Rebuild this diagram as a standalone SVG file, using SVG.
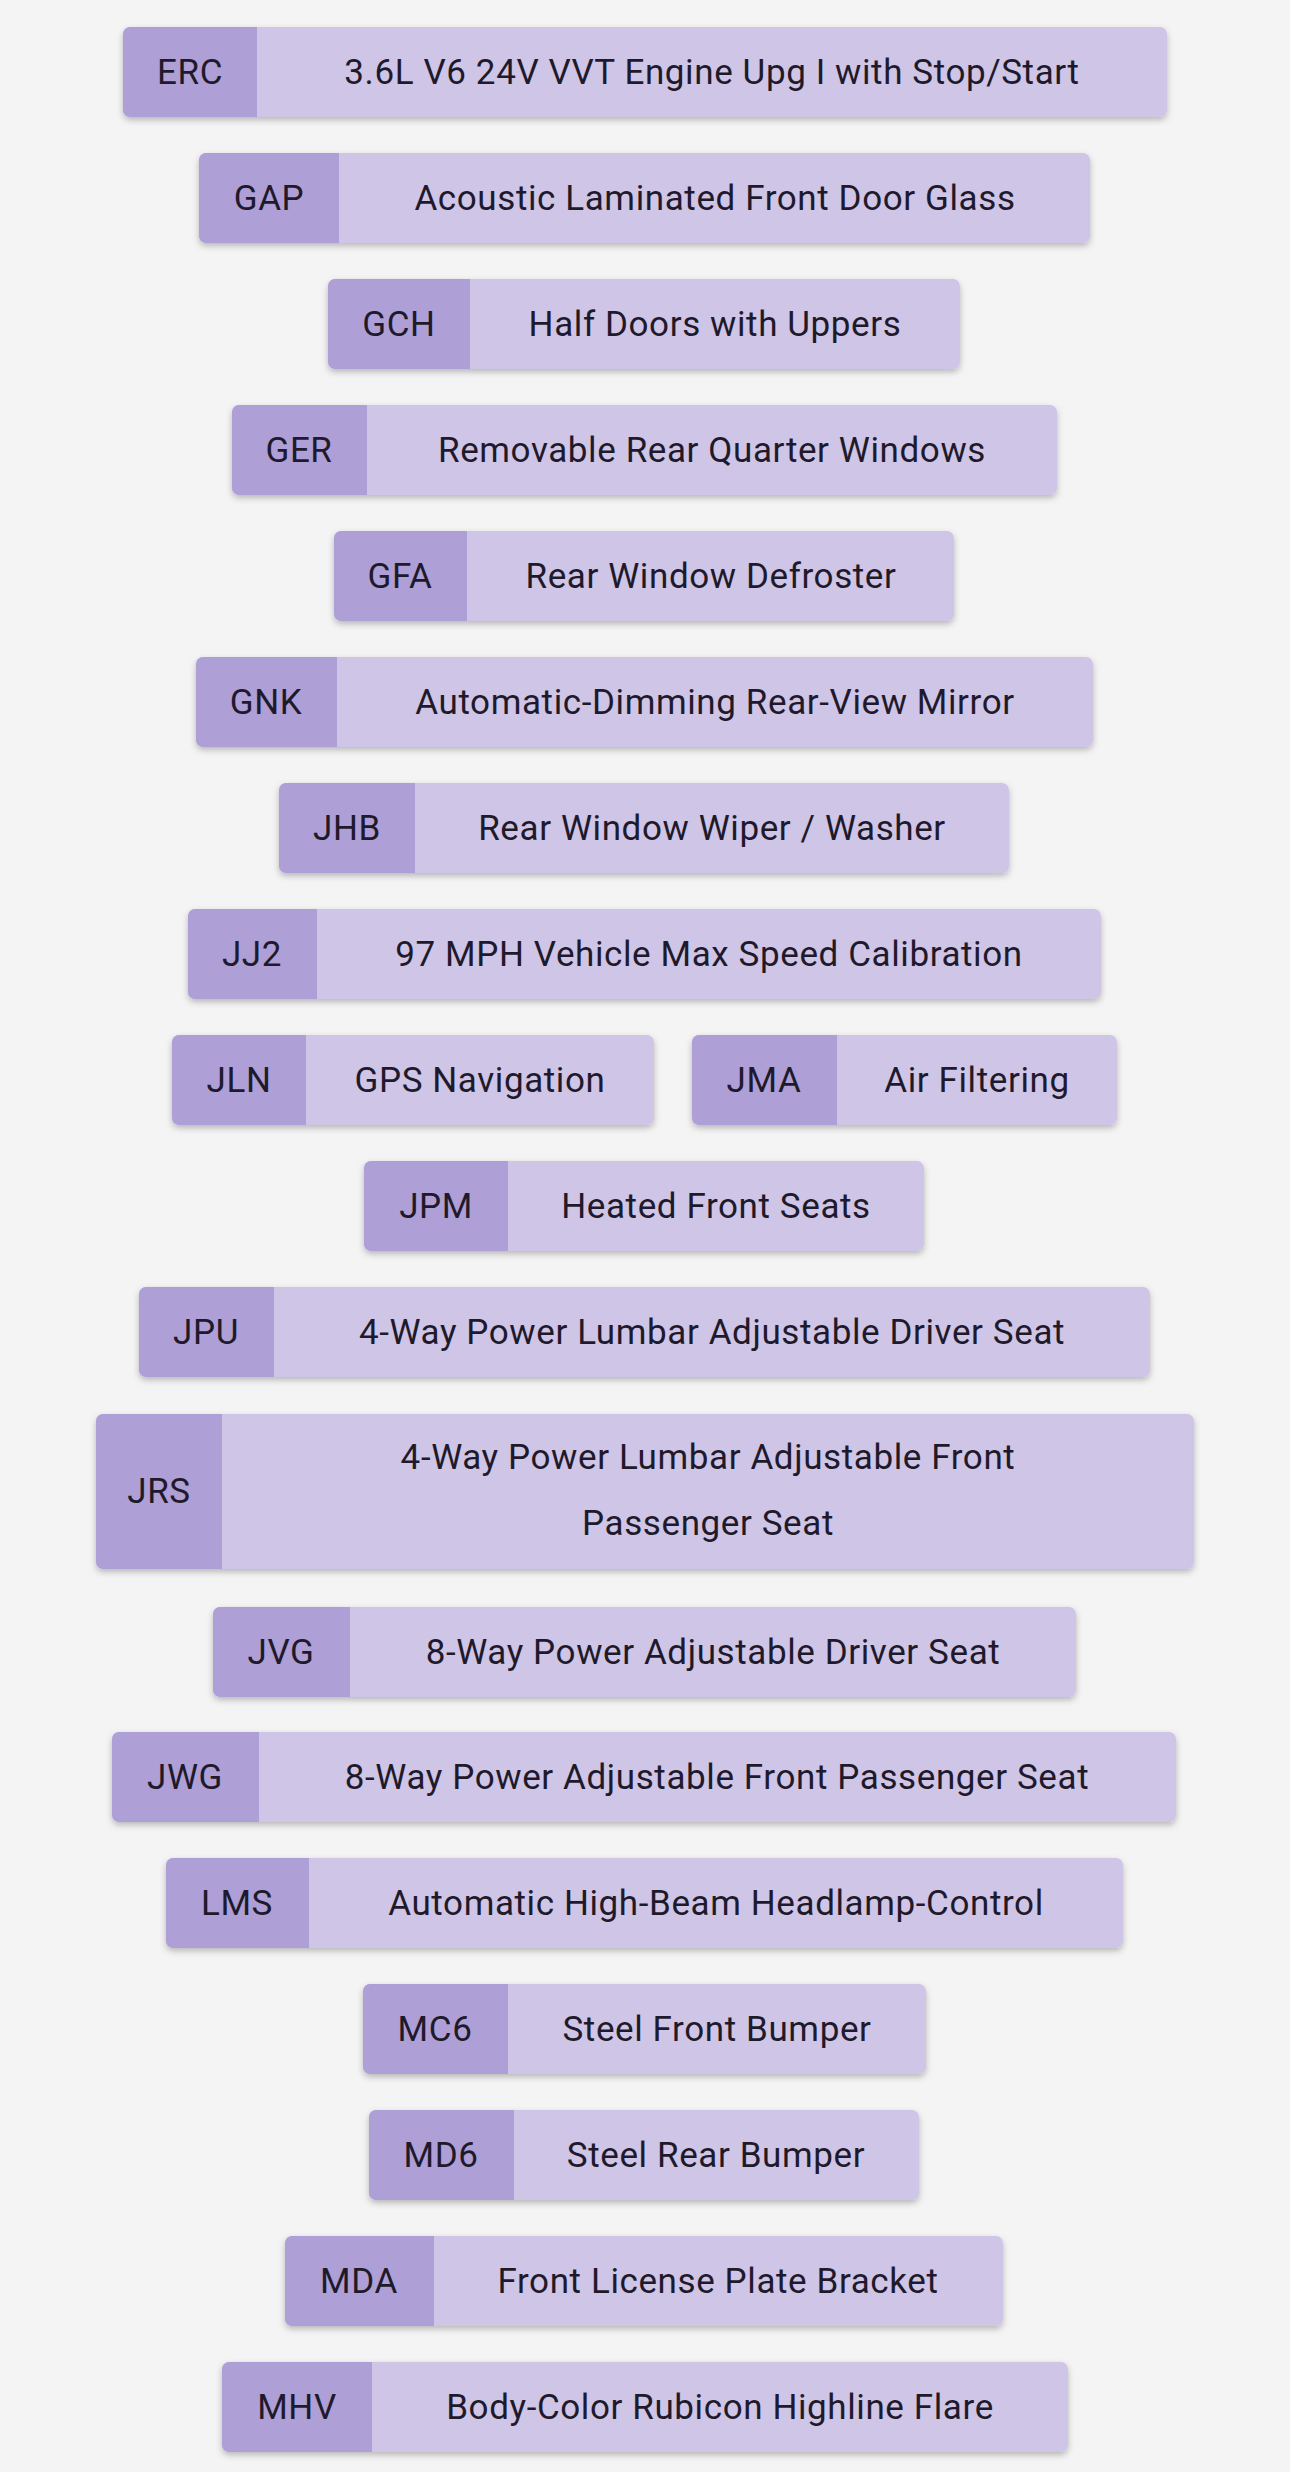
<svg xmlns="http://www.w3.org/2000/svg" width="1290" height="2472" viewBox="0 0 1290 2472">
<defs>
<filter id="sh" x="-5%" y="-20%" width="110%" height="150%"><feDropShadow dx="0" dy="3" stdDeviation="3" flood-color="#000" flood-opacity="0.25"/></filter>
<style>
.lb{fill:#cfc5e7}
.cd{fill:#ae9fd7}
text{font-family:Roboto,"Liberation Sans",sans-serif;font-size:35px;fill:#1f1a2b;text-anchor:middle;dominant-baseline:central;letter-spacing:0.6px}
</style>
</defs>
<rect width="1290" height="2472" fill="#f4f4f4"/>
<g id="top"><rect x="360" y="-90" width="567" height="88" rx="7" class="lb" filter="url(#sh)"/></g>
<g id="nodes">
<g id="ERC"><rect x="123" y="27" width="1044" height="90" rx="7" class="lb" filter="url(#sh)"/><path d="M130 27H257V117H130A7 7 0 0 1 123 110V34A7 7 0 0 1 130 27Z" class="cd"/><text x="190" y="72">ERC</text><text x="712" y="72">3.6L V6 24V VVT Engine Upg I with Stop/Start</text></g>
<g id="GAP"><rect x="199" y="153" width="891" height="90" rx="7" class="lb" filter="url(#sh)"/><path d="M206 153H339V243H206A7 7 0 0 1 199 236V160A7 7 0 0 1 206 153Z" class="cd"/><text x="269" y="198">GAP</text><text x="715" y="198">Acoustic Laminated Front Door Glass</text></g>
<g id="GCH"><rect x="328" y="279" width="632" height="90" rx="7" class="lb" filter="url(#sh)"/><path d="M335 279H470V369H335A7 7 0 0 1 328 362V286A7 7 0 0 1 335 279Z" class="cd"/><text x="399" y="324">GCH</text><text x="715" y="324">Half Doors with Uppers</text></g>
<g id="GER"><rect x="232" y="405" width="825" height="90" rx="7" class="lb" filter="url(#sh)"/><path d="M239 405H367V495H239A7 7 0 0 1 232 488V412A7 7 0 0 1 239 405Z" class="cd"/><text x="299" y="450">GER</text><text x="712" y="450">Removable Rear Quarter Windows</text></g>
<g id="GFA"><rect x="334" y="531" width="620" height="90" rx="7" class="lb" filter="url(#sh)"/><path d="M341 531H467V621H341A7 7 0 0 1 334 614V538A7 7 0 0 1 341 531Z" class="cd"/><text x="400" y="576">GFA</text><text x="711" y="576">Rear Window Defroster</text></g>
<g id="GNK"><rect x="196" y="657" width="897" height="90" rx="7" class="lb" filter="url(#sh)"/><path d="M203 657H337V747H203A7 7 0 0 1 196 740V664A7 7 0 0 1 203 657Z" class="cd"/><text x="266" y="702">GNK</text><text x="715" y="702">Automatic-Dimming Rear-View Mirror</text></g>
<g id="JHB"><rect x="279" y="783" width="730" height="90" rx="7" class="lb" filter="url(#sh)"/><path d="M286 783H415V873H286A7 7 0 0 1 279 866V790A7 7 0 0 1 286 783Z" class="cd"/><text x="347" y="828">JHB</text><text x="712" y="828">Rear Window Wiper / Washer</text></g>
<g id="JJ2"><rect x="188" y="909" width="913" height="90" rx="7" class="lb" filter="url(#sh)"/><path d="M195 909H317V999H195A7 7 0 0 1 188 992V916A7 7 0 0 1 195 909Z" class="cd"/><text x="252" y="954">JJ2</text><text x="709" y="954">97 MPH Vehicle Max Speed Calibration</text></g>
<g id="JLN"><rect x="172" y="1035" width="482" height="90" rx="7" class="lb" filter="url(#sh)"/><path d="M179 1035H306V1125H179A7 7 0 0 1 172 1118V1042A7 7 0 0 1 179 1035Z" class="cd"/><text x="239" y="1080">JLN</text><text x="480" y="1080">GPS Navigation</text></g>
<g id="JMA"><rect x="692" y="1035" width="425" height="90" rx="7" class="lb" filter="url(#sh)"/><path d="M699 1035H837V1125H699A7 7 0 0 1 692 1118V1042A7 7 0 0 1 699 1035Z" class="cd"/><text x="764" y="1080">JMA</text><text x="977" y="1080">Air Filtering</text></g>
<g id="JPM"><rect x="364" y="1161" width="560" height="90" rx="7" class="lb" filter="url(#sh)"/><path d="M371 1161H508V1251H371A7 7 0 0 1 364 1244V1168A7 7 0 0 1 371 1161Z" class="cd"/><text x="436" y="1206">JPM</text><text x="716" y="1206">Heated Front Seats</text></g>
<g id="JPU"><rect x="139" y="1287" width="1011" height="90" rx="7" class="lb" filter="url(#sh)"/><path d="M146 1287H274V1377H146A7 7 0 0 1 139 1370V1294A7 7 0 0 1 146 1287Z" class="cd"/><text x="206" y="1332">JPU</text><text x="712" y="1332">4-Way Power Lumbar Adjustable Driver Seat</text></g>
<g id="JRS"><rect x="96" y="1414" width="1098" height="155" rx="7" class="lb" filter="url(#sh)"/><path d="M103 1414H222V1569H103A7 7 0 0 1 96 1562V1421A7 7 0 0 1 103 1414Z" class="cd"/><text x="159" y="1491">JRS</text><text x="708" y="1457">4-Way Power Lumbar Adjustable Front</text><text x="708" y="1523">Passenger Seat</text></g>
<g id="JVG"><rect x="213" y="1607" width="863" height="90" rx="7" class="lb" filter="url(#sh)"/><path d="M220 1607H350V1697H220A7 7 0 0 1 213 1690V1614A7 7 0 0 1 220 1607Z" class="cd"/><text x="281" y="1652">JVG</text><text x="713" y="1652">8-Way Power Adjustable Driver Seat</text></g>
<g id="JWG"><rect x="112" y="1732" width="1064" height="90" rx="7" class="lb" filter="url(#sh)"/><path d="M119 1732H259V1822H119A7 7 0 0 1 112 1815V1739A7 7 0 0 1 119 1732Z" class="cd"/><text x="185" y="1777">JWG</text><text x="717" y="1777">8-Way Power Adjustable Front Passenger Seat</text></g>
<g id="LMS"><rect x="166" y="1858" width="957" height="90" rx="7" class="lb" filter="url(#sh)"/><path d="M173 1858H309V1948H173A7 7 0 0 1 166 1941V1865A7 7 0 0 1 173 1858Z" class="cd"/><text x="237" y="1903">LMS</text><text x="716" y="1903">Automatic High-Beam Headlamp-Control</text></g>
<g id="MC6"><rect x="363" y="1984" width="563" height="90" rx="7" class="lb" filter="url(#sh)"/><path d="M370 1984H508V2074H370A7 7 0 0 1 363 2067V1991A7 7 0 0 1 370 1984Z" class="cd"/><text x="435" y="2029">MC6</text><text x="717" y="2029">Steel Front Bumper</text></g>
<g id="MD6"><rect x="369" y="2110" width="550" height="90" rx="7" class="lb" filter="url(#sh)"/><path d="M376 2110H514V2200H376A7 7 0 0 1 369 2193V2117A7 7 0 0 1 376 2110Z" class="cd"/><text x="441" y="2155">MD6</text><text x="716" y="2155">Steel Rear Bumper</text></g>
<g id="MDA"><rect x="285" y="2236" width="718" height="90" rx="7" class="lb" filter="url(#sh)"/><path d="M292 2236H434V2326H292A7 7 0 0 1 285 2319V2243A7 7 0 0 1 292 2236Z" class="cd"/><text x="359" y="2281">MDA</text><text x="718" y="2281">Front License Plate Bracket</text></g>
<g id="MHV"><rect x="222" y="2362" width="846" height="90" rx="7" class="lb" filter="url(#sh)"/><path d="M229 2362H372V2452H229A7 7 0 0 1 222 2445V2369A7 7 0 0 1 229 2362Z" class="cd"/><text x="297" y="2407">MHV</text><text x="720" y="2407">Body-Color Rubicon Highline Flare</text></g>
</g>
<g id="connectors"/>
</svg>
